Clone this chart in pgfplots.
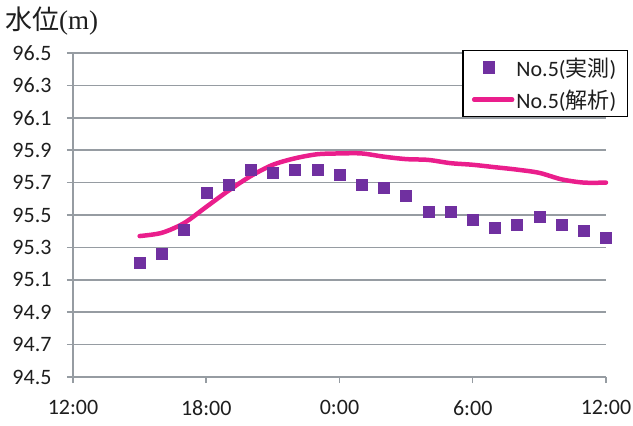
\documentclass[border=0pt]{standalone}
\usepackage{pgfplots}
\pgfplotsset{compat=1.18}
\usepackage{fontspec}
\setmainfont{Carlito}
\newfontfamily\cjk{Noto Sans CJK JP}
\newfontfamily\serif{Liberation Serif}
\definecolor{gridgray}{RGB}{150,156,162}
\definecolor{meas}{RGB}{112,48,160}
\definecolor{sim}{RGB}{234,30,140}
\definecolor{txt}{RGB}{30,30,30}
\pgfplotsset{
 measleg/.style={legend image code/.code={\draw[mark repeat=2,mark phase=2,##1] plot coordinates {(0pt,0pt)(15pt,0pt)(38pt,0pt)};}},
 simleg/.style={legend image code/.code={\draw[##1] (0pt,0pt) -- (38pt,0pt);}},
}
\begin{document}
\begin{tikzpicture}
\path[use as bounding box] (-73pt,-49pt) rectangle (560pt,377pt);
\begin{axis}[
 scale only axis, width=533pt, height=324pt,
 xmin=0, xmax=24, ymin=94.5, ymax=96.5,
 axis lines=left, axis line style={-, gridgray, line width=1.5pt},
 xtick={0,6,12,18,24}, xticklabels={12:00,18:00,0:00,6:00,12:00},
 ytick={94.5,94.7,94.9,95.1,95.3,95.5,95.7,95.9,96.1,96.3,96.5},
 yticklabels={94.5,94.7,94.9,95.1,95.3,95.5,95.7,95.9,96.1,96.3,96.5},
 tick align=outside, major tick length=6pt,
 tick style={gridgray, line width=1.5pt},
 ymajorgrids, grid style={gridgray, line width=1.5pt},
 ticklabel style={font=\fontsize{22}{22}\selectfont, text=txt},
 xticklabel style={yshift=-14pt},
 yticklabel style={xshift=-12pt},
 clip=false,
 legend cell align=left,
 legend style={at={(1.0413,1.0093)}, anchor=north east, draw=black, line width=1.5pt,
   font=\fontsize{22}{22}\selectfont, text=txt, fill=white,
   inner xsep=9pt, inner ysep=5pt, row sep=8pt,
   nodes={inner sep=2pt}},
]
\addplot[only marks, mark=square*, mark size=5.5pt, mark options={draw=meas, fill=meas}, measleg]
 coordinates {
 (3,95.205) (4,95.26) (5,95.41) (6,95.64) (7,95.69) (8,95.78) (9,95.76) (10,95.78)
 (11,95.78) (12,95.75) (13,95.69) (14,95.67) (15,95.62) (16,95.52) (17,95.52)
 (18,95.47) (19,95.42) (20,95.44) (21,95.49) (22,95.44) (23,95.40) (24,95.36)
 };
\addlegendentry{No.5({\cjk 実測})}
\addplot[sim, line width=4.5pt, smooth, line cap=round, simleg]
 coordinates {
 (3,95.37) (4,95.39) (5,95.45) (6,95.55) (7,95.65) (8,95.74) (9,95.81) (10,95.85)
 (11,95.875) (12,95.88) (13,95.88) (14,95.86) (15,95.845) (16,95.84) (17,95.82)
 (18,95.81) (19,95.795) (20,95.78) (21,95.76) (22,95.72) (23,95.70) (24,95.70)
 };
\addlegendentry{No.5({\cjk 解析})}
\end{axis}
\node[anchor=base west, inner sep=0, text=txt, font=\fontsize{27}{27}\selectfont] at (-68pt,347pt) {{\cjk 水位}{\serif (m)}};
\end{tikzpicture}
\end{document}
